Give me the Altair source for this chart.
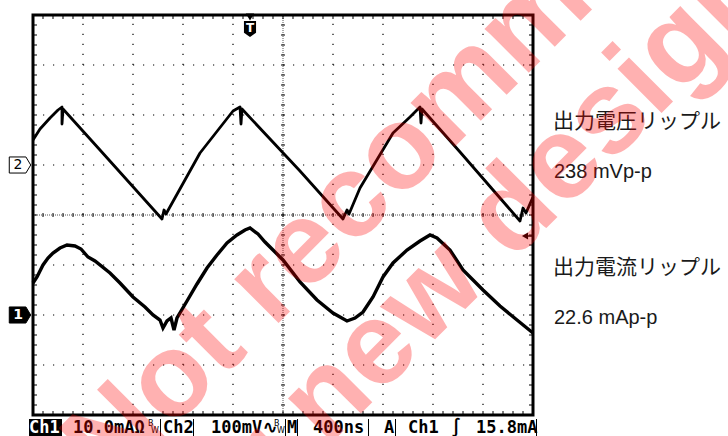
import altair as alt
import numpy as np
import pandas as pd

# ---------------- scope settings ----------------
NS_PER_DIV = 400          # M 400ns
MV_PER_DIV = 100          # Ch2 100mV
MA_PER_DIV = 10           # Ch1 10.0mA
H_DIVS, V_DIVS = 10, 8
CH2_GROUND_DIV = 1        # reference marker "2"
CH1_GROUND_DIV = -2       # reference marker "1"
TRIG_LEVEL_MA = 15.8
TRIG_TIME_NS = 1736

# ---------------- waveforms ----------------
# Ch2: output voltage ripple (time ns, mV)
v_time_ns = [0, 56, 136, 200, 232, 232, 240, 536, 1032, 1048, 1064, 1336, 1600, 1656,
             1664, 1672, 2136, 2480, 2512, 2528, 2616, 2880, 3016, 3096, 3104, 3112,
             3416, 3896, 3920, 3944, 4000]
v_mv = [50, 72, 94, 110, 116, 82, 112, 30, -108, -90, -98, 24, 108, 116,
        82, 112, -12, -108, -90, -98, -46, 64, 96, 116, 84, 112,
        26, -112, -86, -96, -64]

# Ch1: output current ripple (time ns, mA)
i_time_ns = [0, 32, 80, 120, 160, 216, 272, 336, 384, 440, 496, 616, 696, 800, 896, 960,
             1016, 1040, 1072, 1104, 1128, 1152, 1232, 1312, 1392, 1472, 1552, 1632, 1696,
             1736, 1800, 1856, 1912, 2000, 2136, 2272, 2400, 2512, 2576, 2640, 2720, 2800,
             2880, 2992, 3096, 3176, 3232, 3336, 3440, 3600, 3736, 3872, 4000]
i_ma = [6.4, 7.6, 10.0, 11.4, 12.4, 13.4, 14.0, 13.8, 13.2, 11.6, 10.8, 8.4, 6.4, 3.6, 1.6, 0.0,
        -1.0, -2.6, -1.2, -0.6, -3.0, -0.6, 2.8, 6.2, 9.4, 12.0, 14.4, 16.0, 17.0,
        17.4, 16.2, 14.6, 13.2, 11.0, 6.6, 3.0, 0.4, -1.2, -0.6, 0.6, 3.6, 7.6,
        10.4, 13.0, 14.8, 16.0, 15.4, 13.0, 9.0, 5.0, 1.8, -1.0, -3.6]

# ---------------- annotations ----------------
ripple_titles = ["出力電圧リップル", "出力電流リップル"]
ripple_values = ["238 mVp-p", "22.6 mAp-p"]
watermark_lines = ["Not recommended", "for new designs"]
status_tokens = ["10.0mAΩ", "Ch2", "100mV", "∿", "M", "400ns", "A", "Ch1", "∫", "15.8mA"]

# ---------------- canvas geometry ----------------
W, H = 728, 436
PX_PER_DIV = 50
LEFT_PX = 33
TOP_PX = 15
center_px = TOP_PX + V_DIVS / 2 * PX_PER_DIV
T_END = H_DIVS * NS_PER_DIV

xs = alt.Scale(domain=[-LEFT_PX / PX_PER_DIV * NS_PER_DIV,
                       (W - LEFT_PX) / PX_PER_DIV * NS_PER_DIV], nice=False, zero=False)
ys = alt.Scale(domain=[(center_px - H) / PX_PER_DIV, center_px / PX_PER_DIV],
               nice=False, zero=False)


def X(f):
    return alt.X(f, type="quantitative", scale=xs, axis=None)


def Y(f):
    return alt.Y(f, type="quantitative", scale=ys, axis=None)


half = V_DIVS / 2
px_div = 1 / PX_PER_DIV           # one pixel, in divisions
px_ns = NS_PER_DIV / PX_PER_DIV   # one pixel, in ns

# major dotted graticule
maj_t = [k * NS_PER_DIV for k in range(1, H_DIVS) if k != H_DIVS // 2]
maj_d = [j for j in range(-int(half) + 1, int(half)) if j != 0]
grid = pd.DataFrame(
    [dict(t=t, t2=t, d=-half, d2=half) for t in maj_t]
    + [dict(t=0, t2=T_END, d=d, d2=d) for d in maj_d]
)
grid_layer = alt.Chart(grid).mark_rule(
    color="black", strokeWidth=1.2, strokeDash=[1.2, 8.8]
).encode(x=X("t"), x2="t2", y=Y("d"), y2="d2")

# centre cross lines
centre = pd.DataFrame([dict(t=T_END / 2, t2=T_END / 2, d=-half, d2=half),
                       dict(t=0, t2=T_END, d=0, d2=0)])
centre_layer = alt.Chart(centre).mark_rule(
    color="#555", strokeWidth=1, strokeDash=[1, 1]
).encode(x=X("t"), x2="t2", y=Y("d"), y2="d2")

# minor ticks on the centre cross and inside the frame
minor_t = np.arange(0, T_END + 1, NS_PER_DIV / 5)
minor_d = np.arange(-half, half + 1e-9, 0.2)
rows = []
for t in minor_t:
    rows.append(dict(t=t, t2=t, d=-2 * px_div, d2=2 * px_div))
    rows.append(dict(t=t, t2=t, d=half, d2=half - 4 * px_div))
    rows.append(dict(t=t, t2=t, d=-half, d2=-half + 4 * px_div))
for d in minor_d:
    rows.append(dict(t=T_END / 2 - 2 * px_ns, t2=T_END / 2 + 2 * px_ns, d=d, d2=d))
    rows.append(dict(t=0, t2=4 * px_ns, d=d, d2=d))
    rows.append(dict(t=T_END, t2=T_END - 4 * px_ns, d=d, d2=d))
ticks_layer = alt.Chart(pd.DataFrame(rows)).mark_rule(
    color="black", strokeWidth=1
).encode(x=X("t"), x2="t2", y=Y("d"), y2="d2")

# frame
frame = pd.DataFrame([dict(t=0, t2=T_END, d=-half, d2=half)])
frame_layer = alt.Chart(frame).mark_rect(
    fillOpacity=0, stroke="black", strokeWidth=3
).encode(x=X("t"), x2="t2", y=Y("d"), y2="d2")

# traces
v_df = pd.DataFrame({"t": v_time_ns, "d": [CH2_GROUND_DIV + v / MV_PER_DIV for v in v_mv]})
i_df = pd.DataFrame({"t": i_time_ns, "d": [CH1_GROUND_DIV + a / MA_PER_DIV for a in i_ma]})
v_layer = alt.Chart(v_df).mark_line(
    color="black", strokeWidth=2.8, strokeJoin="round"
).encode(x=X("t"), y=Y("d"))
i_layer = alt.Chart(i_df).mark_line(
    color="black", strokeWidth=3.4, strokeJoin="miter"
).encode(x=X("t"), y=Y("d"))

# channel reference markers
pent = "M-1,-0.75 L0.55,-0.75 L1,0 L0.55,0.75 L-1,0.75 Z"
ch_df = pd.DataFrame({"d": [CH2_GROUND_DIV, CH1_GROUND_DIV], "lab": ["2", "1"],
                      "ch": ["ch2", "ch1"]})
ch2_box = alt.Chart(ch_df[ch_df.ch == "ch2"]).mark_point(
    shape=pent, size=460, filled=True, fill="white", stroke="black", strokeWidth=1, opacity=1
).encode(x=alt.value(20), y=Y("d"))
ch1_box = alt.Chart(ch_df[ch_df.ch == "ch1"]).mark_point(
    shape=pent, size=460, filled=True, fill="black", stroke="black", strokeWidth=1, opacity=1
).encode(x=alt.value(20), y=Y("d"))
ch2_txt = alt.Chart(ch_df[ch_df.ch == "ch2"]).mark_text(
    font="DejaVu Sans", fontSize=14, color="black", dx=-2
).encode(x=alt.value(20), y=Y("d"), text="lab:N")
ch1_txt = alt.Chart(ch_df[ch_df.ch == "ch1"]).mark_text(
    font="DejaVu Sans", fontSize=14, fontWeight="bold", color="white", dx=-2
).encode(x=alt.value(20), y=Y("d"), text="lab:N")

# trigger position (top) and trigger level (right)
trig_df = pd.DataFrame({"t": [TRIG_TIME_NS], "lab": ["T"]})
trig_tri = alt.Chart(trig_df).mark_point(
    shape="triangle-down", size=70, filled=True, color="black", opacity=1
).encode(x=X("t"), y=alt.value(17))
shield = "M-0.75,-1 L0.75,-1 L0.75,0.45 L0,1 L-0.75,0.45 Z"
trig_badge = alt.Chart(trig_df).mark_point(
    shape=shield, size=260, filled=True, color="black", opacity=1
).encode(x=X("t"), y=alt.value(29))
trig_T = alt.Chart(trig_df).mark_text(
    font="DejaVu Sans", fontSize=12, fontWeight="bold", color="white"
).encode(x=X("t"), y=alt.value(28), text="lab:N")

lvl_df = pd.DataFrame({"d": [CH1_GROUND_DIV + TRIG_LEVEL_MA / MA_PER_DIV],
                       "t": [T_END - 8 * px_ns], "t2": [T_END]})
lvl_arrow = alt.Chart(lvl_df).mark_point(
    shape="triangle-left", size=50, filled=True, color="black", opacity=1
).encode(x=X("t"), y=Y("d"))
lvl_line = alt.Chart(lvl_df).mark_rule(color="black", strokeWidth=1.5).encode(
    x=X("t"), x2="t2", y=Y("d"))

# status bar
one = alt.Data(values=[{}])
bar_y = 428
ch1_box_bar = alt.Chart(one).mark_rect(color="black").encode(
    x=alt.value(29), x2=alt.value(61), y=alt.value(419), y2=alt.value(437))
ch1_lab_bar = alt.Chart(one).mark_text(
    text="Ch1", font="DejaVu Sans Mono", fontSize=17, fontWeight="bold", color="white",
    align="left", baseline="middle").encode(x=alt.value(29), y=alt.value(bar_y))
tok_x = [73, 163, 211, 263, 287, 313, 384, 408, 451, 476]
tok_df = pd.DataFrame({"txt": status_tokens, "x": tok_x})
tok_layer = alt.Chart(tok_df).mark_text(
    font="DejaVu Sans Mono", fontSize=17, fontWeight="bold", color="black", align="left",
    baseline="middle"
).encode(x=alt.X("x:Q", scale=None), y=alt.value(bar_y), text="txt:N")
bw_df = pd.DataFrame({"x": [148, 274, 151, 277], "y": [424, 424, 431, 431],
                      "s": ["B", "B", "W", "W"]})
bw_layer = alt.Chart(bw_df).mark_text(
    font="DejaVu Sans", fontSize=8, color="black", align="left", baseline="middle"
).encode(x=alt.X("x:Q", scale=None), y=alt.Y("y:Q", scale=None), text="s:N")
sep_df = pd.DataFrame({"x": [61.5, 160.5, 193.5, 285.5, 297.5, 368.5, 395.5, 536.5]})
sep_layer = alt.Chart(sep_df).mark_rule(color="black", strokeWidth=1).encode(
    x=alt.X("x:Q", scale=None), y=alt.value(419), y2=alt.value(436))

# ripple annotations on the right
ann_df = pd.DataFrame({
    "txt": [ripple_titles[0], ripple_values[0], ripple_titles[1], ripple_values[1]],
    "y": [122, 172, 268, 318],
    "kind": ["title", "value", "title", "value"],
})
ann_title = alt.Chart(ann_df[ann_df.kind == "title"]).mark_text(
    font="Noto Sans CJK JP", fontSize=21, color="#1a1a1a", align="left", baseline="middle"
).encode(x=alt.value(553), y=alt.Y("y:Q", scale=None), text="txt:N")
ann_value = alt.Chart(ann_df[ann_df.kind == "value"]).mark_text(
    font="Liberation Sans", fontSize=20, color="#1a1a1a", align="left", baseline="middle"
).encode(x=alt.value(554), y=alt.Y("y:Q", scale=None), text="txt:N")

# diagonal watermark
wm_df = pd.DataFrame({"txt": watermark_lines, "x": [452, 485], "y": [100, 240]})
wm_layer = alt.Chart(wm_df).mark_text(
    font="Liberation Sans", fontSize=118, fontWeight="bold", color="#ff0000",
    opacity=0.3, angle=315, align="center", baseline="middle"
).encode(x=alt.X("x:Q", scale=None), y=alt.Y("y:Q", scale=None), text="txt:N")

chart = alt.layer(
    grid_layer, centre_layer, ticks_layer, frame_layer, v_layer, i_layer,
    ch2_box, ch1_box, ch2_txt, ch1_txt, trig_tri, trig_badge, trig_T,
    lvl_line, lvl_arrow, ch1_box_bar, ch1_lab_bar, tok_layer, bw_layer, sep_layer,
    ann_title, ann_value, wm_layer,
).properties(
    width=W, height=H, autosize="none", padding=0, background="white"
).configure_view(stroke=None)

chart.save("out.html", embed_options={"renderer": "svg", "actions": False})
